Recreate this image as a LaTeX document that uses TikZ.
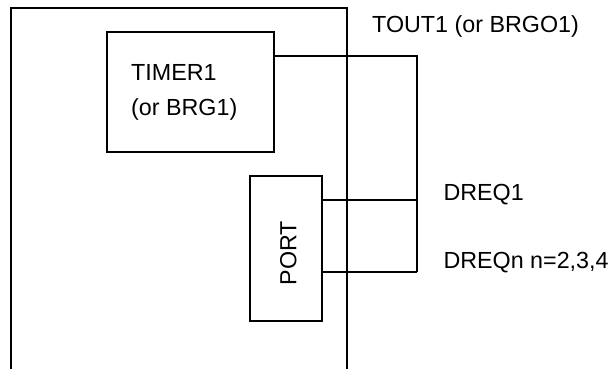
\documentclass[tikz,border=0pt]{standalone}
\usepackage{fontspec}
\setmainfont{Liberation Sans}
\begin{document}
\begin{tikzpicture}[x=1pt,y=-1pt,
  wire/.style={line width=2pt},
  box/.style={draw,line width=2pt,inner sep=0pt},
  lbl/.style={inner sep=0pt,font=\fontsize{23.3}{28}\selectfont}]
\useasboundingbox (0,0) rectangle (613,368);
% outer chip outline (open at the bottom)
\draw[wire] (11,369) -- (11,8.3) -- (346.7,8.3) -- (346.7,369);
% blocks
\node[box,minimum width=167pt,minimum height=120pt] (timer) at (190.5,92) {};
\node[lbl,anchor=base west] (t1) at (131,80) {TIMER1};
\node[lbl,anchor=base west] (t2) at (131,115.7) {(or BRG1)};
\node[box,minimum width=72pt,minimum height=145pt] (port) at (286.3,248.5) {};
\node[lbl,rotate=90] (portlbl) at (288.3,253) {PORT};
% junction points
\coordinate (j1) at (417,56);
\coordinate (d1) at (417,200);
\coordinate (dn) at (417,271.7);
% connectors
\draw[wire] (timer.east |- j1) -- (j1) -- (dn);
\draw[wire] (port.east |- d1) -- (d1);
\draw[wire] (port.east |- dn) -- (dn);
% signal labels
\node[lbl,anchor=base west] (tout) at (372,32) {TOUT1 (or BRGO1)};
\node[lbl,anchor=base west] (dreq1) at (443.3,200.7) {DREQ1};
\node[lbl,anchor=base west] (dreqn) at (443.3,268.3) {DREQn n=2,3,4};
\end{tikzpicture}
\end{document}
